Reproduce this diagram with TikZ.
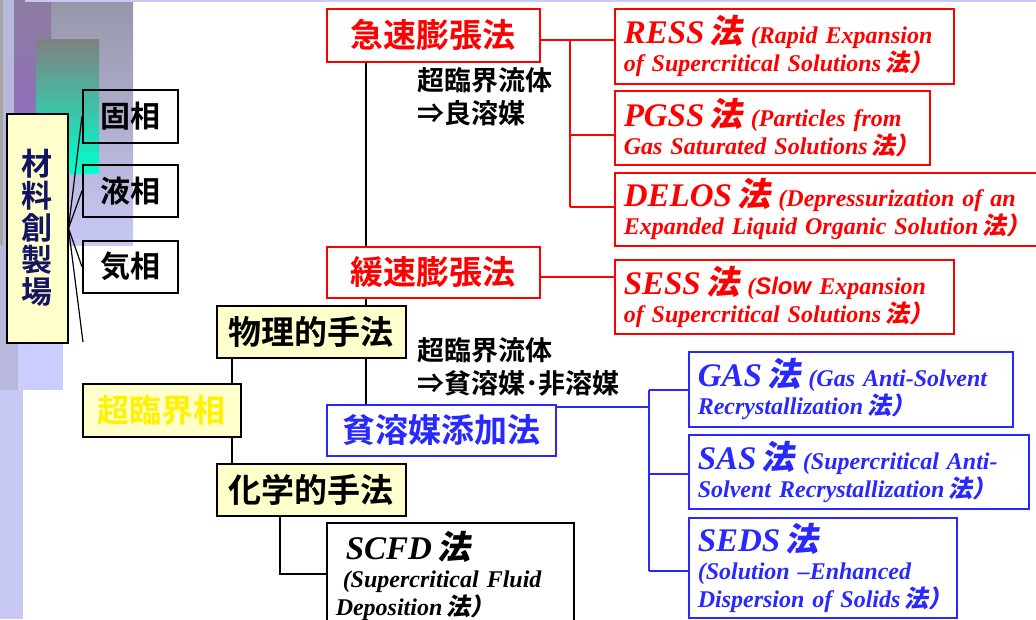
\documentclass[tikz,border=0pt]{standalone}
\usepackage{fontspec}
\newfontfamily\jp{Noto Sans CJK JP Bold}
\newfontfamily\jpit{Noto Sans CJK JP Bold}[FakeSlant=0.2]
\newfontfamily\tim{Liberation Serif}
\newfontfamily\ari{Liberation Sans}
\newcommand\jhou{\,{\jpit 法}}
\newcommand\jcls{{\jpit ）}}
\newcommand\acr[1]{{\fontsize{33}{28}\selectfont #1\jhou}}
\definecolor{myred}{RGB}{255,0,0}
\definecolor{myblue}{RGB}{40,40,255}
\definecolor{myyel}{RGB}{255,255,204}
\definecolor{navy}{RGB}{20,20,100}
\definecolor{lavA}{RGB}{200,200,245}
\definecolor{lavB}{RGB}{184,184,220}
\definecolor{lavC}{RGB}{204,204,255}
\begin{document}
\begin{tikzpicture}[x=1pt,y=-1pt,
  box/.style={draw, line width=1.5pt, inner sep=0pt, anchor=north west},
  kbox/.style={box, font=\jp\fontsize{30}{32}\selectfont},
  ybox/.style={box, fill=myyel, font=\jp\fontsize{33}{34}\selectfont},
  rbox/.style={box, draw=myred, fill=white, text=myred, font=\jp\fontsize{33}{34}\selectfont},
  bbox/.style={box, draw=myblue, fill=white, text=myblue, font=\jp\fontsize{33}{34}\selectfont},
  tbox/.style={box, fill=white, align=left, inner xsep=9pt, inner ysep=0pt,
     font=\tim\bfseries\itshape\fontsize{24}{28}\selectfont},
  rtbox/.style={tbox, draw=myred, text=myred},
  btbox/.style={tbox, draw=myblue, text=myblue},
  lab/.style={anchor=north west, inner sep=0pt, align=left, font=\jp\fontsize{27}{33}\selectfont},
  conn/.style={line width=2.2pt},
  rconn/.style={line width=2pt, draw=myred},
  bconn/.style={line width=2.2pt, draw=myblue},
  fan/.style={line width=1.2pt}
]
\useasboundingbox (0,0) rectangle (1036,619);
% background decoration
\fill[lavA] (0,0) rectangle (23,619);
\fill[lavB] (0,0) rectangle (18,390);
\fill[gray!70] (0,0) rectangle (3,245);
\fill[lavC] (18,245) rectangle (63,390);
\shade[top color={rgb,255:red,150;green,150;blue,170}, bottom color={rgb,255:red,200;green,200;blue,245}] (51,0) rectangle (133,245);
\shade[top color={rgb,255:red,140;green,125;blue,160}, bottom color={rgb,255:red,150;green,95;blue,215}] (14,0) rectangle (51,245);
\shade[top color={rgb,255:red,128;green,128;blue,128}, bottom color={rgb,255:red,0;green,255;blue,204}] (36,39) rectangle (99,173);
\fill[lavA] (25,0) rectangle (1036,1.5);

% left part
\node[ybox, text=navy, minimum width=61pt, minimum height=229pt, align=center,
  font=\jp\fontsize{31}{32}\selectfont] (mat) at (6,113) {材\\料\\創\\製\\場};
\node[kbox, minimum width=95pt, minimum height=53pt] (ko) at (82,89) {固相};
\node[kbox, minimum width=95pt, minimum height=52pt] (eki) at (82,164) {液相};
\node[kbox, minimum width=95pt, minimum height=52pt] (ki) at (82,240) {気相};
\coordinate (fanend) at (83,342);
\draw[fan] (mat.east) -- (ko.west);
\draw[fan] (mat.east) -- (eki.west);
\draw[fan] (mat.east) -- (ki.west);
\draw[fan] (mat.east) -- (fanend);

\node[ybox, text=yellow, minimum width=158pt, minimum height=53pt,
  font=\jp\fontsize{32}{33}\selectfont] (sc) at (82,383) {超臨界相};
\node[ybox, minimum width=189pt, minimum height=52pt] (phy) at (216,305) {物理的手法};
\node[ybox, minimum width=189pt, minimum height=52pt] (chem) at (216,463) {化学的手法};

% middle
\node[rbox, minimum width=213pt, minimum height=53pt] (kyu) at (326,8) {急速膨張法};
\node[rbox, minimum width=213pt, minimum height=51pt] (kan) at (326,246) {緩速膨張法};
\node[bbox, minimum width=229pt, minimum height=51pt] (hin) at (326,404) {貧溶媒添加法};

\node[lab] (lab1) at (417,67) {超臨界流体\\⇒良溶媒};
\node[lab] (lab2) at (417,337) {超臨界流体\\⇒貧溶媒･非溶媒};

% red method boxes
\node[rtbox, minimum height=75pt, text width=321pt] (ress) at (614,8)
  {\mbox{\acr{RESS} (Rapid Expansion}\\\mbox{of Supercritical Solutions\jhou\jcls}};
\node[rtbox, minimum height=74pt, text width=297pt] (pgss) at (614,90)
  {\mbox{\acr{PGSS} (Particles from}\\\mbox{Gas Saturated Solutions\jhou\jcls}};
\node[rtbox, minimum height=73pt, text width=406pt] (delos) at (614,172)
  {\mbox{\acr{DELOS} (Depressurization of an}\\\mbox{Expanded Liquid Organic Solution\jhou\jcls}};
\node[rtbox, minimum height=74pt, text width=321pt] (sess) at (614,259)
  {\mbox{\acr{SESS} ({\ari\bfseries\itshape Slow} Expansion}\\\mbox{of Supercritical Solutions\jhou\jcls}};

% blue method boxes
\node[btbox, minimum height=75pt, text width=306pt] (gas) at (688,351)
  {\mbox{\acr{GAS} (Gas Anti-Solvent}\\\mbox{Recrystallization\jhou\jcls}};
\node[btbox, minimum height=74pt, text width=322pt] (sas) at (688,434)
  {\mbox{\acr{SAS} (Supercritical Anti-}\\\mbox{Solvent Recrystallization\jhou\jcls}};
\node[btbox, minimum height=100pt, text width=250pt] (seds) at (688,517)
  {\mbox{\acr{SEDS}}\\\mbox{(Solution –Enhanced}\\\mbox{Dispersion of Solids\jhou\jcls}};

% SCFD
\node[tbox, minimum height=106pt, text width=229pt] (scfd) at (326,522)
  {\mbox{\hspace*{10pt}\acr{SCFD}}\\\mbox{\hspace*{7pt}(Supercritical Fluid}\\\mbox{Deposition\jhou\jcls}};

% coordinates for connectors
\coordinate (tx) at (366,0);
\coordinate (px) at (232,0);
\coordinate (c1) at (280,574);
\coordinate (r0) at (570,40);
\coordinate (r2) at (570,135);
\coordinate (r3) at (570,207);
\coordinate (s0) at (570,277);
\coordinate (b0) at (649,407);
\coordinate (b1) at (649,390);
\coordinate (b2) at (649,474);
\coordinate (b3) at (649,571);

% black connectors
\draw[conn] (kyu.south -| tx) -- (kan.north -| tx);
\draw[conn] (kan.south -| tx) -- (phy.north -| tx);
\draw[conn] (phy.south -| tx) -- (hin.north -| tx);
\draw[conn] (phy.south -| px) -- (sc.north -| px);
\draw[conn] (sc.south -| px) -- (chem.north -| px);
\draw[conn] (chem.south -| c1) |- (scfd.west |- c1);

% red connectors
\draw[rconn] (kyu.east |- r0) -- (ress.west |- r0);
\draw[rconn] (r0) -- (r3);
\draw[rconn] (r2) -- (pgss.west |- r2);
\draw[rconn] (r3) -- (delos.west |- r3);
\draw[rconn] (kan.east |- s0) -- (sess.west |- s0);

% blue connectors
\draw[bconn] (hin.east |- b0) -- (b0);
\draw[bconn] (b1) -- (b3);
\draw[bconn] (b1) -- (gas.west |- b1);
\draw[bconn] (b2) -- (sas.west |- b2);
\draw[bconn] (b3) -- (seds.west |- b3);
\end{tikzpicture}
\end{document}
